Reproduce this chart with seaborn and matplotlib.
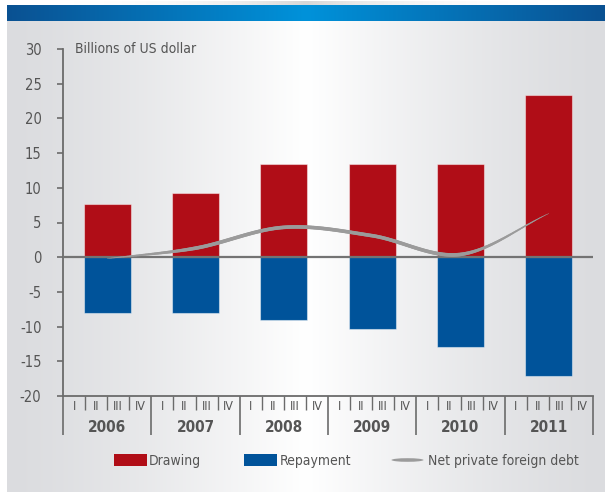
import numpy as np
import pandas as pd
import matplotlib
matplotlib.use("Agg")
import matplotlib.pyplot as plt
from matplotlib import font_manager
from matplotlib.collections import LineCollection
from matplotlib.patches import Rectangle, Ellipse
from matplotlib.transforms import blended_transform_factory
import seaborn as sns

# ---- data -------------------------------------------------------------
years = ["2006", "2007", "2008", "2009", "2010", "2011"]
quarters = ["I", "II", "III", "IV"]
drawing = [7.6, 9.2, 13.4, 13.5, 13.5, 23.4]
repayment = [-8.0, -8.0, -9.1, -10.4, -13.0, -17.1]
net_debt = [-0.2, 1.3, 4.3, 3.1, 0.4, 6.3]
y_ticks = [-20, -15, -10, -5, 0, 5, 10, 15, 20, 25, 30]
unit_label = "Billions of US dollar"
legend_labels = ["Drawing", "Repayment", "Net private foreign debt"]

RED = "#b00d17"
BLUE = "#00539a"
LINE = "#9b9b9b"
TEXT = "#555555"
AXIS = "#6b6b6b"

sns.set_style("white")
plt.rcParams["font.family"] = ["DejaVu Sans"]
plt.rcParams["font.stretch"] = "condensed"
plt.rcParams["axes.unicode_minus"] = False

# narrow typeface for all labels
FONT = font_manager.FontProperties(family="DejaVu Sans", stretch="condensed")

W, H = 605, 492
fig = plt.figure(figsize=(W / 100, H / 100), dpi=100)

# ---- background: white margin, blue banner, soft grey panel -----------
bg = fig.add_axes([0, 0, 1, 1], zorder=-5)
bg.set_xlim(0, W)
bg.set_ylim(H, 0)
bg.axis("off")

xs = np.linspace(0, 1, 600)


def hgrad(edge, centre, power=1.0):
    e = np.array(matplotlib.colors.to_rgb(edge))
    c = np.array(matplotlib.colors.to_rgb(centre))
    k = (1 - np.abs(xs - 0.5) * 2) ** power
    return (e[None, :] * (1 - k[:, None]) + c[None, :] * k[:, None])[None, :, :]


bg.imshow(hgrad("#dbdcdf", "#ffffff", 1.3), extent=[7, W, H, 21],
          aspect="auto", interpolation="bilinear")
bg.imshow(hgrad("#0a5192", "#0092da", 1.0), extent=[7, W, 21, 5],
          aspect="auto", interpolation="bilinear")
shade = np.ones((1, 600, 4))
shade[..., :3] = 0.55
shade[..., 3] = 0.35 * (1 - np.abs(xs - 0.5) * 2) ** 3
bg.imshow(shade, extent=[7, W, 5, 1], aspect="auto", interpolation="bilinear")

# ---- main axes ----------------------------------------------------------
ax = fig.add_axes([63 / W, 1 - 396 / H, 530 / W, 347 / H])
ax.set_facecolor("none")

centres = [4 * i + 2 for i in range(len(years))]
df = pd.DataFrame({"pos": centres, "drawing": drawing, "repayment": repayment})

sns.barplot(data=df, x="pos", y="drawing", native_scale=True, width=0.53,
            color=RED, saturation=1, errorbar=None, ax=ax,
            edgecolor=(1, 1, 1, 0.45), linewidth=0.8, zorder=2)
sns.barplot(data=df, x="pos", y="repayment", native_scale=True, width=0.53,
            color=BLUE, saturation=1, errorbar=None, ax=ax,
            edgecolor=(1, 1, 1, 0.45), linewidth=0.8, zorder=2)

ax.set_xlim(0, 24)
ax.set_ylim(-20, 30)
ax.set_xlabel("")
ax.set_ylabel("")

ax.axhline(0, color="#737373", lw=1.6, zorder=3)


# smooth net-debt curve (Catmull-Rom through the yearly values)
def catmull_rom(px, py, n=60):
    px = np.asarray(px, float)
    py = np.asarray(py, float)
    P = np.column_stack([px, py])
    P = np.vstack([2 * P[0] - P[1], P, 2 * P[-1] - P[-2]])
    out = []
    for i in range(1, len(P) - 2):
        p0, p1, p2, p3 = P[i - 1], P[i], P[i + 1], P[i + 2]
        t = np.linspace(0, 1, n, endpoint=(i == len(P) - 3))[:, None]
        seg = 0.5 * ((2 * p1) + (-p0 + p2) * t
                     + (2 * p0 - 5 * p1 + 4 * p2 - p3) * t ** 2
                     + (-p0 + 3 * p1 - 3 * p2 + p3) * t ** 3)
        out.append(seg)
    return np.vstack(out)


curve = catmull_rom(centres, net_debt)
segs = np.stack([curve[:-1], curve[1:]], axis=1)
t = np.linspace(0, 1, len(segs))
taper = np.clip(np.minimum(t, 1 - t) / 0.2, 0, 1) ** 0.8
lc = LineCollection(segs, colors=LINE, linewidths=0.3 + 2.3 * taper,
                    capstyle="round", zorder=4)
ax.add_collection(lc)

# y axis
ax.set_yticks(y_ticks)
ax.set_yticklabels([str(v) for v in y_ticks], fontproperties=FONT,
                   fontsize=10.5, color=TEXT)
ax.tick_params(axis="y", direction="out", length=4.5, width=1.2, color=AXIS,
               pad=11, left=True)
for side in ("top", "right"):
    ax.spines[side].set_visible(False)
for side in ("left", "bottom"):
    ax.spines[side].set_color(AXIS)
    ax.spines[side].set_linewidth(1.3)

# x axis: quarter and year dividers below the plot
ax.set_xticks(range(0, 25, 4))
ax.set_xticks(range(0, 25), minor=True)
ax.set_xticklabels([])
ax.tick_params(axis="x", which="major", direction="out", length=28,
               width=1.2, color=AXIS, bottom=True)
ax.tick_params(axis="x", which="minor", direction="out", length=10,
               width=1.0, color=AXIS, bottom=True)

tr = blended_transform_factory(ax.transData, ax.transAxes)
px = 1 / 347
for i, yr in enumerate(years):
    for q, ql in enumerate(quarters):
        ax.text(4 * i + q + 0.5, -11 * px, ql, transform=tr, ha="center",
                va="center", fontproperties=FONT, fontsize=9, color=TEXT,
                clip_on=False)
    ax.text(4 * i + 2, -32 * px, yr, transform=tr, ha="center",
            va="center", fontproperties=FONT, fontsize=11,
            fontweight="bold", color=TEXT, clip_on=False)

ax.text(0.55, 30, unit_label, ha="left", va="center", fontproperties=FONT,
        fontsize=10, color=TEXT)

# ---- legend ---------------------------------------------------------------
leg_y = 460
bg.add_patch(Rectangle((114, 454), 33, 11.5, color=RED, lw=0))
bg.text(149, leg_y + 1, legend_labels[0], ha="left", va="center",
        fontproperties=FONT, fontsize=10, color=TEXT)
bg.add_patch(Rectangle((244, 454), 33, 11.5, color=BLUE, lw=0))
bg.text(280, leg_y + 1, legend_labels[1], ha="left", va="center",
        fontproperties=FONT, fontsize=10, color=TEXT)
bg.add_patch(Ellipse((407.5, leg_y), 32, 3.6, color=LINE, lw=0))
bg.text(428, leg_y + 1, legend_labels[2], ha="left", va="center",
        fontproperties=FONT, fontsize=10, color=TEXT)

fig.savefig("out.png", dpi=100)
